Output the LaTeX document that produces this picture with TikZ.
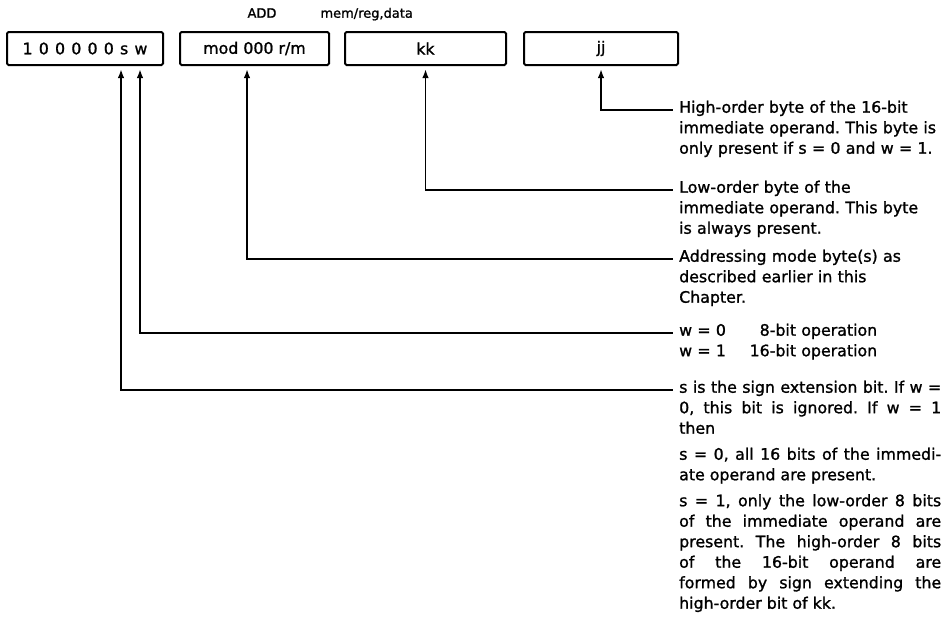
\documentclass[tikz,border=0pt]{standalone}
\usepackage{fontspec}
\setmainfont{DejaVu Sans}[FakeBold=1.2]
\usetikzlibrary{
  arrows.meta,
  positioning
}
\frenchspacing
\newcommand\notefont{\fontsize{15.8}{20.5}\selectfont}
\newcommand\notegap{\par\vspace{5.5pt}}
\tikzset{
  field/.style={
    draw,
    line width=2pt,
    rounded corners=1.5pt,
    minimum height=33pt,
    inner sep=0pt,
    outer sep=0pt,
    font=\fontsize{15.8}{18}\selectfont
  },
  note/.style={
    anchor=mid west,
    inner sep=0pt,
    text width=262pt,
    align=left,
    font=\notefont
  },
  heading/.style={font=\fontsize{13}{15}\selectfont, inner sep=0pt, outer sep=0pt},
  pointer/.style={
    {Latex[length=9pt,width=6.5pt]}-,
    line width=1.8pt,
    shorten <=4pt,
    shorten >=6pt
  }
}

\begin{document}
\begin{tikzpicture}[x=1pt, y=-1pt]
  \useasboundingbox (0,0) rectangle (945,624);

  \node[heading] (mnemonic) at (262,13) {ADD};
  \node[heading, base right=44pt of mnemonic] (operands) {mem/reg,data};

  \node[field, minimum width=156pt] (opcode) at (85,48.5)
    {\spaceskip=6.2pt 1 0 0 0 0 0 s w};
  \node[field, minimum width=149pt, right=17pt of opcode] (modrm) {mod 000 r/m};
  \node[field, minimum width=161pt, right=16pt of modrm] (lowbyte) {kk};
  \node[field, minimum width=154pt, right=18pt of lowbyte] (highbyte) {jj};

  \coordinate (sbit) at ([xshift=36pt]opcode.south);
  \coordinate (wbit) at ([xshift=55pt]opcode.south);
  \coordinate (modbit) at ([xshift=-7.5pt]modrm.south);

  \node[note] (highnote) at (679,110)
    {High-order byte of the 16-bit\\
     immediate operand. This byte is\\
     only present if s = 0 and w = 1.};
  \node[note] (lownote) at (679,190)
    {Low-order byte of the\\
     immediate operand. This byte\\
     is always present.};
  \node[note] (modnote) at (679,259)
    {Addressing mode byte(s) as\\
     described earlier in this\\
     Chapter.};
  \node[note] (wnote) at (679,333)
    {w = 0\quad\enspace\phantom{1}8-bit operation\\
     w = 1\quad\enspace16-bit operation};
  \node[note, align=justify] (snote) at (679,390)
    {s is the sign extension bit. If w =\linebreak
     0, this bit is ignored. If w = 1\linebreak
     then\notegap
     s = 0, all 16 bits of the immedi-\linebreak
     ate operand are present.\notegap
     s = 1, only the low-order 8 bits\linebreak
     of the immediate operand are\linebreak
     present. The high-order 8 bits\linebreak
     of the 16-bit operand are\linebreak
     formed by sign extending the\linebreak
     high-order bit of kk.};

  \draw[pointer] (highbyte.south) |- (highnote.mid west);
  \draw[pointer] (lowbyte.south) |- (lownote.mid west);
  \draw[pointer] (modbit) |- (modnote.mid west);
  \draw[pointer] (wbit) |- (wnote.mid west);
  \draw[pointer] (sbit) |- (snote.mid west);
\end{tikzpicture}
\end{document}
